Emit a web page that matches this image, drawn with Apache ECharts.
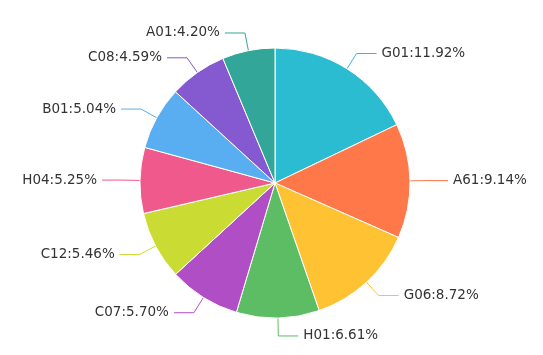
<!DOCTYPE html>
<html>
<head>
<meta charset="utf-8">
<script src="https://cdn.jsdelivr.net/npm/echarts@6/dist/echarts.min.js"></script>
<style>html,body{margin:0;padding:0;background:#fff;}#c{width:543px;height:355px;}</style>
</head>
<body>
<div id="c"></div>
<script>
const categories = ['G01','A61','G06','H01','C07','C12','H04','B01','C08','A01'];
const values = [11.92, 9.14, 8.72, 6.61, 5.70, 5.46, 5.25, 5.04, 4.59, 4.20];
const colors = ['#2CBCD2','#FF7849','#FFC233','#5CBD65','#B04FC5','#CADC33','#F0598B','#58AEF0','#855AD0','#31A699'];

const chart = echarts.init(document.getElementById('c'));
chart.setOption({
  animation: false,
  color: colors,
  series: [{
    type: 'pie',
    center: [275, 183],
    radius: [0, 135],
    startAngle: 90,
    clockwise: true,
    itemStyle: { borderColor: '#fff', borderWidth: 1 },
    label: {
      formatter: '{b}:{c}%',
      fontFamily: 'DejaVu Sans, sans-serif',
      fontSize: 13.5,
      color: '#333'
    },
    labelLine: { length: 18, length2: 20, lineStyle: { width: 1 } },
    data: categories.map((n, i) => ({ name: n, value: values[i].toFixed(2) }))
  }]
});
</script>
</body>
</html>
